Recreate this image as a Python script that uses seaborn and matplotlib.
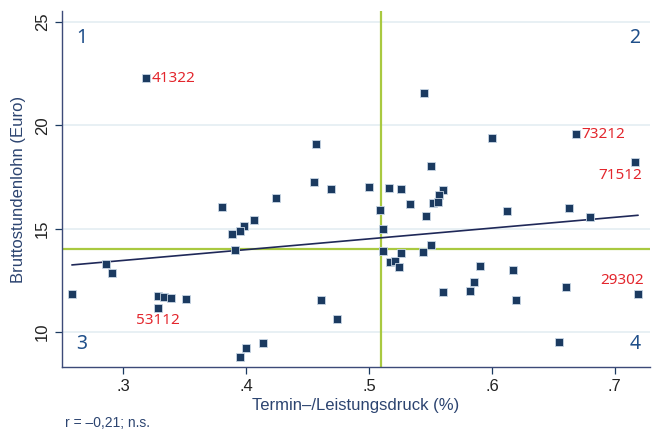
import matplotlib
matplotlib.use("Agg")
import matplotlib.pyplot as plt
import seaborn as sns
import pandas as pd
import numpy as np

# Data
druck = [0.258, 0.286, 0.291, 0.328, 0.333, 0.339, 0.351, 0.328,
         0.318,
         0.380, 0.424, 0.455, 0.469, 0.406, 0.398, 0.395, 0.388, 0.391,
         0.461, 0.474, 0.414, 0.400, 0.395,
         0.500, 0.516, 0.526, 0.550, 0.533, 0.560, 0.557, 0.552, 0.556,
         0.509, 0.546, 0.511, 0.511, 0.526, 0.544, 0.550, 0.517, 0.521,
         0.524, 0.560,
         0.545, 0.457,
         0.600, 0.6685, 0.7165, 0.612, 0.663, 0.680, 0.590, 0.617,
         0.585, 0.582, 0.620, 0.660, 0.719, 0.655]
lohn = [11.87, 13.29, 12.86, 11.73, 11.70, 11.66, 11.60, 11.18,
        22.26,
        16.05, 16.50, 17.27, 16.92, 15.44, 15.15, 14.90, 14.74, 13.97,
        11.54, 10.63, 9.50, 9.26, 8.81,
        17.00, 16.98, 16.91, 18.03, 16.19, 16.86, 16.62, 16.26, 16.28,
        15.90, 15.60, 14.99, 13.94, 13.81, 13.89, 14.20, 13.37, 13.45,
        13.15, 11.92,
        21.55, 19.10,
        19.37, 19.57, 18.24, 15.87, 16.00, 15.58, 13.20, 13.02,
        12.44, 12.00, 11.54, 12.19, 11.84, 9.52]

label_ids = ["41322", "73212", "71512", "29302", "53112"]
label_x = [0.318, 0.6685, 0.7165, 0.719, 0.328]
label_y = [22.26, 19.57, 18.24, 11.84, 11.18]

quadrant_names = ["1", "2", "3", "4"]
mean_x = 0.51
mean_y = 14.0

x_ticks = [0.3, 0.4, 0.5, 0.6, 0.7]
x_ticklabels = [".3", ".4", ".5", ".6", ".7"]
y_ticks = [10, 15, 20, 25]
y_ticklabels = ["10", "15", "20", "25"]

df = pd.DataFrame({"druck": druck, "lohn": lohn})

sns.set_theme(style="white")
plt.rcParams["font.family"] = ["Liberation Sans", "DejaVu Sans"]

navy = "#1b3a60"
txt = "#2c4470"
green = "#a9c940"
red = "#e3262d"
qcol = "#1f4f8a"

fig = plt.figure(figsize=(6.55, 4.33), dpi=100)
ax = fig.add_axes([0.094, 0.152, 0.898, 0.823])

for yv in y_ticks:
    ax.axhline(yv, color="#e4eef2", lw=1.2, zorder=0)

ax.axvline(mean_x, color=green, lw=1.6, zorder=1)
ax.axhline(mean_y, color=green, lw=1.6, zorder=1)

sns.regplot(data=df, x="druck", y="lohn", ax=ax, ci=None, truncate=True,
            marker="s",
            scatter_kws=dict(s=30, color=navy, edgecolors="#c8d6e4",
                             linewidths=0.6, zorder=3, alpha=1),
            line_kws=dict(color="#1f2858", lw=1.2, zorder=2))

# point labels
offsets = [(4, 0, "left", "center"), (4, 0, "left", "center"),
           (5, -10, "right", "center"), (4.5, 10, "right", "center"),
           (0, -9, "center", "center")]
for lid, lx, ly, (dx, dy, ha, va) in zip(label_ids, label_x, label_y, offsets):
    ax.annotate(lid, (lx, ly), xytext=(dx, dy), textcoords="offset points",
                ha=ha, va=va, color=red, fontsize=11,
                family=["Noto Sans", "DejaVu Sans"])

# quadrant numbers
qpos = [(0.025, 0.925, "left"), (0.984, 0.925, "right"),
        (0.025, 0.065, "left"), (0.984, 0.065, "right")]
for q, (qx, qy, ha) in zip(quadrant_names, qpos):
    ax.text(qx, qy, q, transform=ax.transAxes, ha=ha, va="center",
            color=qcol, fontsize=14, family=["Noto Sans", "DejaVu Sans"])

ax.set_xlim(0.2496, 0.7285)
ax.set_ylim(8.31, 25.53)
ax.set_xticks(x_ticks)
ax.set_xticklabels(x_ticklabels)
ax.set_yticks(y_ticks)
ax.set_yticklabels(y_ticklabels, rotation=90, va="center")
ax.tick_params(axis="both", colors=navy, labelcolor="#222222", labelsize=12,
               length=5, width=0.9, direction="out", left=True, bottom=True)
ax.set_xlabel("Termin\u2013/Leistungsdruck (%)", color=txt, fontsize=12, labelpad=3)
ax.set_ylabel("Bruttostundenlohn (Euro)", color=txt, fontsize=12, labelpad=6)

for s in ["top", "right"]:
    ax.spines[s].set_visible(False)
for s in ["left", "bottom"]:
    ax.spines[s].set_color("#3c4a78")
    ax.spines[s].set_linewidth(1.0)

fig.text(0.099, 0.006, "r = \u20130,21; n.s.", color=txt, fontsize=10, ha="left", va="bottom")

fig.savefig("out.png", dpi=100)
